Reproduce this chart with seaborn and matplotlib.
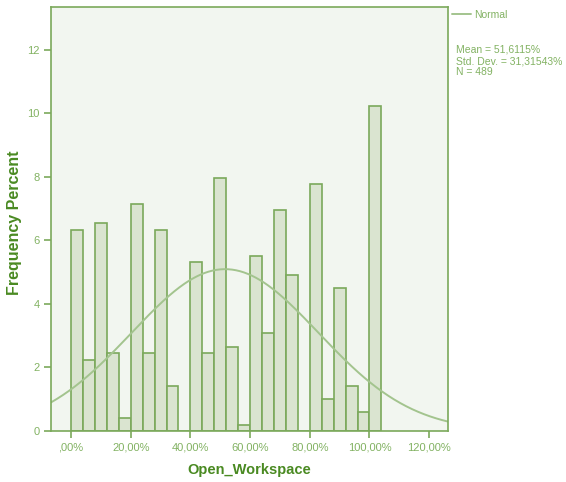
import numpy as np
import pandas as pd
import matplotlib
matplotlib.use("Agg")
import matplotlib.pyplot as plt
import seaborn as sns

# Histogram of Open_Workspace (N = 489), bins of 4 percentage points from 0 to 104
bin_edges = list(range(0, 108, 4))
freq_percent = [6.34, 2.25, 6.54, 2.45, 0.41, 7.16, 2.45, 6.34, 1.43, 0.0,
                5.32, 2.45, 7.98, 2.66, 0.20, 5.52, 3.07, 6.95, 4.91, 0.0,
                7.77, 1.02, 4.50, 1.43, 0.61, 10.22]
mean_val = 51.6115
sd_val = 31.31543
n_obs = 489

x_ticks = [0, 20, 40, 60, 80, 100, 120]
x_tick_labels = [",00%", "20,00%", "40,00%", "60,00%", "80,00%", "100,00%", "120,00%"]
y_ticks = [0, 2, 4, 6, 8, 10, 12]

sns.set_theme(style="white")
plt.rcParams["font.family"] = ["Liberation Sans", "DejaVu Sans"]

edge_green = "#7BA95B"
fill_green = "#DAE4D0"
curve_green = "#A3C48E"
tick_green = "#82B262"
label_green = "#4A8A22"
bg_green = "#F2F6F0"

fig = plt.figure(figsize=(5.66, 4.82), dpi=100)
ax = fig.add_axes([51 / 566, 51 / 482, 397 / 566, 424 / 482])
ax.set_facecolor(bg_green)

centers = [(a + b) / 2 for a, b in zip(bin_edges[:-1], bin_edges[1:])]
df = pd.DataFrame({"value": centers, "pct": freq_percent})
sns.histplot(data=df, x="value", weights="pct", bins=bin_edges, ax=ax,
             color=fill_green, edgecolor=edge_green, linewidth=1.2, alpha=1.0)

# Normal curve scaled to percent per bin
xlo, xhi = -6.7, 126.3
xs = np.linspace(xlo, xhi, 400)
bw = bin_edges[1] - bin_edges[0]
ys = 100 * bw * np.exp(-0.5 * ((xs - mean_val) / sd_val) ** 2) / (sd_val * np.sqrt(2 * np.pi))
sns.lineplot(x=xs, y=ys, ax=ax, color=curve_green, linewidth=1.4)

ax.set_xlim(xlo, xhi)
ax.set_ylim(0, 13.35)
ax.set_xticks(x_ticks)
ax.set_xticklabels(x_tick_labels)
ax.set_yticks(y_ticks)
ax.tick_params(axis="both", which="both", direction="out", length=5, width=1.2,
               color=edge_green, labelcolor=tick_green, labelsize=8, pad=3,
               bottom=True, left=True)
for s in ax.spines.values():
    s.set_color(edge_green)
    s.set_linewidth(1.2)

ax.set_xlabel("Open_Workspace", fontsize=10.5, fontweight="bold", color=label_green, labelpad=8)
ax.set_ylabel("Frequency Percent", fontsize=11.5, fontweight="bold", color=label_green)
ax.yaxis.set_label_coords(-29 / 397, 0.49)

# Legend and summary statistics to the right of the plot
fig.add_artist(plt.Line2D([452 / 566, 471 / 566], [1 - 14 / 482, 1 - 14 / 482],
                          color=curve_green, linewidth=1.4))
fig.text(474 / 566, 1 - 15 / 482, "Normal", fontsize=7.5, color=tick_green, va="center", ha="left")
stats = f"Mean = 51,6115%\nStd. Dev. = 31,31543%\nN = {n_obs}"
fig.text(456 / 566, 1 - 45 / 482, stats, fontsize=7.5, color=tick_green, va="top", ha="left",
         linespacing=1.15)

fig.savefig("out.png", dpi=100)
